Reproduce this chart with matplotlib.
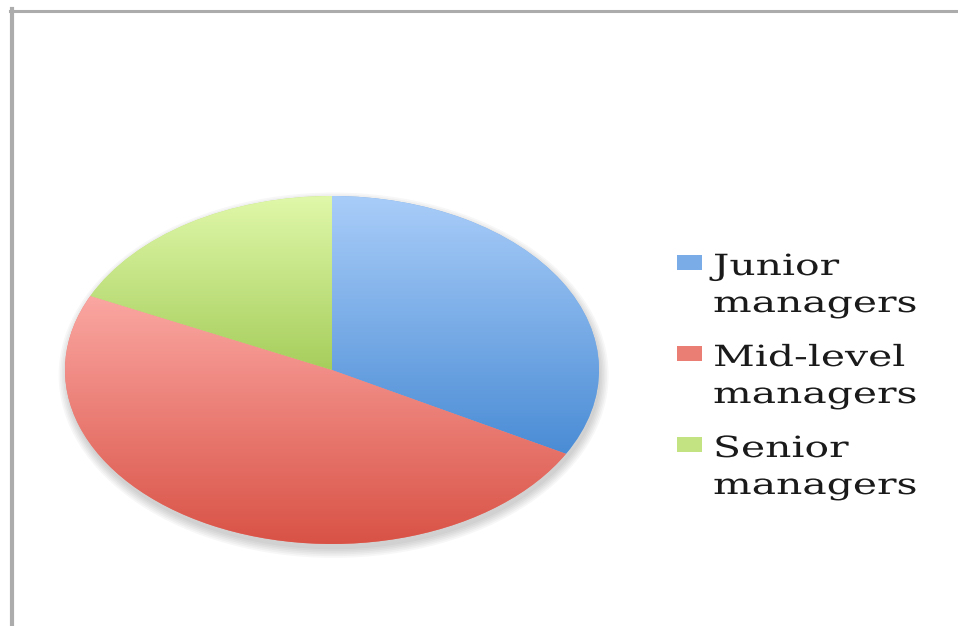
import matplotlib.pyplot as plt
import numpy as np
from matplotlib.colors import LinearSegmentedColormap, to_rgb
from matplotlib.patches import Ellipse, Rectangle
from matplotlib.lines import Line2D
from matplotlib.patheffects import AbstractPathEffect
from matplotlib.transforms import Affine2D

labels = ["Junior\nmanagers", "Mid-level\nmanagers", "Senior\nmanagers"]
shares = [33, 49, 18]
top_colors = ["#a9cdf9", "#fba7a2", "#e0f8aa"]
bottom_colors = ["#4a8cd5", "#d95246", "#a6ce5c"]


# the source picture is stretched sideways, so stretch the glyphs too
class Stretch(AbstractPathEffect):
    def __init__(self, sx):
        super().__init__()
        self.sx = sx

    def draw_path(self, renderer, gc, tpath, affine, rgbFace=None):
        renderer.draw_path(gc, tpath, Affine2D().scale(self.sx, 1) + affine, rgbFace)


W, H = 958, 626
fig = plt.figure(figsize=(W / 100, H / 100), dpi=100)

# pie is an ellipse: centre and radii in pixels
cx, cy, rx, ry = 332, 370, 267, 174
pad = 1.1
ax = fig.add_axes([(cx - rx * pad) / W, (H - cy - ry * pad) / H, 2 * rx * pad / W, 2 * ry * pad / H])

mids = [tuple((np.array(to_rgb(a)) + np.array(to_rgb(b))) / 2) for a, b in zip(top_colors, bottom_colors)]
wedges, _ = ax.pie(shares, startangle=90, counterclock=False, colors=mids,
                   wedgeprops=dict(linewidth=0))

# soft shadow under the pie
for k in range(6):
    ax.add_patch(Ellipse((0.006, -0.03), 2 + 0.012 * k, 2 + 0.02 * k, color='black',
                         alpha=0.03, lw=0, zorder=-1))

# vertical gradient in every wedge
grad = np.linspace(0, 1, 256).reshape(-1, 1)
for w, c0, c1 in zip(wedges, top_colors, bottom_colors):
    bb = w.get_path().get_extents()
    cmap = LinearSegmentedColormap.from_list('g', [c1, c0])
    im = ax.imshow(grad, cmap=cmap, origin='lower', aspect='auto', interpolation='bilinear',
                   extent=[bb.x0, bb.x1, bb.y0, bb.y1], zorder=1.5)
    im.set_clip_path(w)

ax.set_aspect('auto')
ax.set_xlim(-pad, pad)
ax.set_ylim(-pad, pad)
ax.axis('off')

# legend drawn by hand: square next to the first line of each label
lx, tx = 677, 713
for i, lab in enumerate(labels):
    ytop = 255 + i * 91
    fig.add_artist(Rectangle((lx / W, 1 - (ytop + 15) / H), 25 / W, 15 / H,
                             color=mids[i], lw=0))
    for j, line in enumerate(lab.split("\n")):
        t = fig.text(tx / W, 1 - (ytop + 20 + 37 * j) / H, line, fontsize=21,
                     family='DejaVu Serif', va='baseline', color='#1a1a1a')
        t.set_path_effects([Stretch(1.4)])

# grey frame on the left and top
fig.add_artist(Line2D([11.5 / W, 11.5 / W], [0, 1 - 9 / H], color='#acacac', lw=3))
fig.add_artist(Line2D([10 / W, 1], [1 - 10.5 / H, 1 - 10.5 / H], color='#acacac', lw=2.2))

fig.savefig('out.png', dpi=100)
